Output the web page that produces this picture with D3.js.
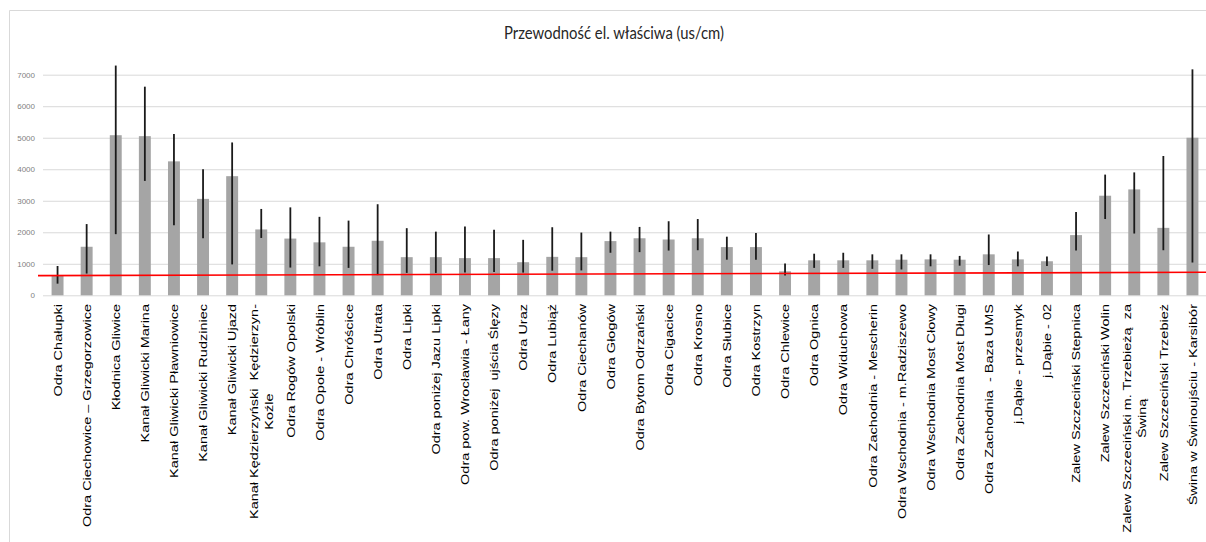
<!DOCTYPE html>
<html><head><meta charset="utf-8">
<script src="https://cdn.jsdelivr.net/npm/d3@7/dist/d3.min.js"></script>
<style>
html,body{margin:0;padding:0;background:#fff;}
svg{display:block;}
</style></head>
<body>
<svg id="chart" width="1206" height="542"></svg>
<script>
const categories = [
  ["Odra Chałupki"],
  ["Odra Ciechowice – Grzegorzowice"],
  ["Kłodnica Gliwice"],
  ["Kanał Gliwicki Marina"],
  ["Kanał Gliwicki Pławniowice"],
  ["Kanał Gliwicki Rudziniec"],
  ["Kanał Gliwicki Ujazd"],
  ["Kanał Kędzierzyński  Kędzierzyn-", "Koźle"],
  ["Odra Rogów Opolski"],
  ["Odra Opole - Wróblin"],
  ["Odra Chróścice"],
  ["Odra Utrata"],
  ["Odra Lipki"],
  ["Odra poniżej Jazu Lipki"],
  ["Odra pow. Wrocławia - Łany"],
  ["Odra poniżej  ujścia Ślęzy"],
  ["Odra Uraz"],
  ["Odra Lubiąż"],
  ["Odra Ciechanów"],
  ["Odra Głogów"],
  ["Odra Bytom Odrzański"],
  ["Odra Cigacice"],
  ["Odra Krosno"],
  ["Odra Słubice"],
  ["Odra Kostrzyn"],
  ["Odra Chlewice"],
  ["Odra Ognica"],
  ["Odra Widuchowa"],
  ["Odra Zachodnia - Mescherin"],
  ["Odra Wschodnia - m.Radziszewo"],
  ["Odra Wschodnia Most Cłowy"],
  ["Odra Zachodnia Most Długi"],
  ["Odra Zachodnia  - Baza UMS"],
  ["j.Dąbie - przesmyk"],
  ["j.Dąbie - 02"],
  ["Zalew Szczeciński Stepnica"],
  ["Zalew Szczeciński Wolin"],
  ["Zalew Szczeciński m. Trzebieżą  za", "Świną"],
  ["Zalew Szczeciński Trzebież"],
  ["Świna w Świnoujściu - Karsibór"]
];
const means = [620, 1540, 5080, 5050, 4250, 3060, 3780, 2090, 1800, 1680, 1540, 1730, 1210, 1210, 1180, 1180, 1050, 1220, 1210, 1720, 1810, 1770, 1810, 1530, 1530, 760, 1110, 1110, 1110, 1130, 1140, 1130, 1300, 1140, 1080, 1910, 3160, 3360, 2140, 5000];
const errHigh = [930, 2260, 7290, 6620, 5120, 4000, 4850, 2740, 2790, 2490, 2370, 2890, 2130, 2020, 2180, 2080, 1760, 2160, 1990, 2020, 2170, 2350, 2420, 1860, 1980, 1010, 1320, 1350, 1300, 1300, 1300, 1250, 1930, 1390, 1230, 2640, 3830, 3900, 4420, 7170];
const errLow = [370, 690, 1940, 3630, 2220, 1810, 980, 1820, 880, 920, 870, 640, 710, 710, 720, 740, 720, 780, 790, 1350, 1370, 1420, 1430, 1130, 1130, 630, 870, 870, 840, 820, 920, 940, 960, 920, 930, 1420, 2420, 1960, 1430, 1040];
const yTicks = [0, 1000, 2000, 3000, 4000, 5000, 6000, 7000];
const refLine = [625, 730];
const title = "Przewodność el. właściwa (us/cm)";

const svg = d3.select("#chart");
const W = 1206, H = 542;
const plot = {left: 43, right: 1207, top: 74.7, bottom: 295.3};

const x = d3.scaleBand().domain(d3.range(categories.length)).range([plot.left, plot.right]).paddingInner(0.59).paddingOuter(0.295);
const y = d3.scaleLinear().domain([0, 7000]).range([plot.bottom, plot.top]);

// chart border (left and top visible)
svg.append("path").attr("d", `M9.5,${H} V10.5 H${W}`).attr("fill", "none").attr("stroke", "#d9d9d9").attr("stroke-width", 1);

// title
svg.append("text").attr("x", 614).attr("y", 39).attr("text-anchor", "middle")
  .attr("font-family", "Lato, 'Open Sans', sans-serif").attr("font-size", 17).attr("fill", "#262626")
  .attr("textLength", 220).attr("lengthAdjust", "spacingAndGlyphs").text(title);

// gridlines
const yAxis = d3.axisLeft(y).tickValues(yTicks).tickSize(-(plot.right - plot.left)).tickPadding(8).tickFormat(d3.format("d"));
const gy = svg.append("g").attr("transform", `translate(${plot.left},0)`).call(yAxis);
gy.select(".domain").remove();
gy.selectAll(".tick line").attr("stroke", "#d9d9d9").attr("stroke-width", 1);
gy.selectAll(".tick text").attr("font-family", "'Liberation Sans', Arial, sans-serif").attr("font-size", 8).attr("fill", "#7f7f7f");

// bars
svg.append("g").selectAll("rect").data(means).join("rect")
  .attr("x", (d, i) => x(i)).attr("width", x.bandwidth())
  .attr("y", d => y(d)).attr("height", d => y(0) - y(d))
  .attr("fill", "#a5a5a5");

// error bars
svg.append("g").selectAll("line").data(means).join("line")
  .attr("x1", (d, i) => x(i) + x.bandwidth() / 2).attr("x2", (d, i) => x(i) + x.bandwidth() / 2)
  .attr("y1", (d, i) => y(errHigh[i])).attr("y2", (d, i) => y(errLow[i]))
  .attr("stroke", "#1a1a1a").attr("stroke-width", 1.8);

// red reference line
svg.append("line").attr("x1", plot.left - 5).attr("x2", W)
  .attr("y1", y(refLine[0])).attr("y2", y(refLine[1]))
  .attr("stroke", "#ff0000").attr("stroke-width", 1.6);

// category labels
const sx = 0.72, fs = 14.5, lineGap = 15, labelTop = 304;
const lg = svg.append("g").attr("font-family", "'Liberation Sans', Arial, sans-serif").attr("font-size", fs).attr("fill", "#000");
categories.forEach((lines, i) => {
  const cx = x(i) + x.bandwidth() / 2 + 0.5;
  const n = lines.length;
  const g = lg.append("g").attr("transform", `translate(${cx},${labelTop}) scale(${sx},1) rotate(-90)`);
  let w1 = 0;
  lines.forEach((t, k) => {
    const off = (k - (n - 1) / 2) * lineGap / sx;
    const tx = g.append("text").style("white-space", "pre").attr("dy", "0.35em").attr("y", off).text(t);
    if (k === 0) {
      tx.attr("text-anchor", "end").attr("x", 0);
      w1 = tx.node().getComputedTextLength();
    } else {
      tx.attr("text-anchor", "middle").attr("x", -w1 / 2);
    }
  });
});
</script>
</body></html>
